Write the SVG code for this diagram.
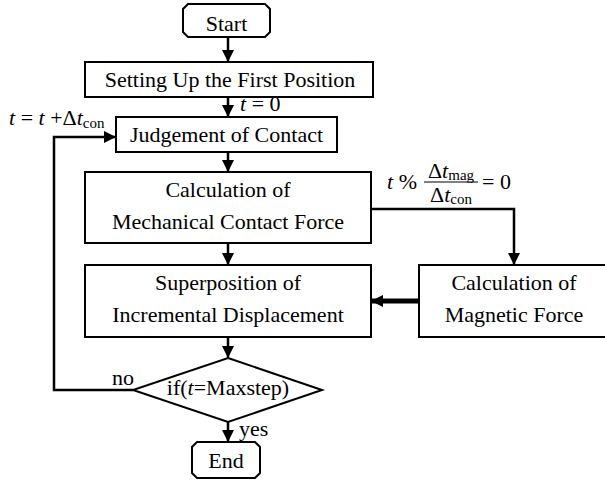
<svg xmlns="http://www.w3.org/2000/svg" width="605" height="481" viewBox="0 0 605 481">
  <defs>
    <marker id="arrow" markerUnits="userSpaceOnUse" markerWidth="14" markerHeight="12" refX="12" refY="6" orient="auto">
      <path d="M0,0 L12,6 L0,12 Z" fill="#000"/>
    </marker>
  </defs>

  <rect width="605" height="481" fill="#fff"/>

  <!-- connectors -->
  <g id="connectors" fill="none" stroke="#000" stroke-width="2.5">
    <line x1="228" y1="37" x2="228" y2="62" marker-end="url(#arrow)"/>
    <line x1="228" y1="97" x2="228" y2="117" marker-end="url(#arrow)"/>
    <line x1="228" y1="152" x2="228" y2="172" marker-end="url(#arrow)"/>
    <line x1="228" y1="243" x2="228" y2="265" marker-end="url(#arrow)"/>
    <line x1="228" y1="337" x2="228" y2="358" marker-end="url(#arrow)"/>
    <line x1="228" y1="422" x2="228" y2="442" marker-end="url(#arrow)"/>
    <polyline points="133,390 54,390 54,137 116,137" marker-end="url(#arrow)"/>
    <polyline points="371,209 514,209 514,265" marker-end="url(#arrow)"/>
    <line x1="419" y1="301" x2="371" y2="301" stroke-width="5" marker-end="url(#arrow)"/>
  </g>

  <!-- connector labels -->
  <g id="labels">
    <text x="240" y="111" font-family="Liberation Serif" font-size="22"><tspan font-style="italic">t</tspan> = 0</text>
    <text x="9" y="125" font-family="Liberation Serif" font-size="22"><tspan font-style="italic">t</tspan> = <tspan font-style="italic">t</tspan> +&#916;<tspan font-style="italic">t</tspan><tspan font-size="15" dy="3">con</tspan></text>
    <text x="387" y="189" font-family="Liberation Serif" font-size="22"><tspan font-style="italic">t</tspan> %</text>
    <text x="451" y="178" text-anchor="middle" font-family="Liberation Serif" font-size="22">&#916;<tspan font-style="italic">t</tspan><tspan font-size="15" dy="2">mag</tspan></text>
    <line x1="424" y1="182" x2="478" y2="182" stroke="#000" stroke-width="1.2"/>
    <text x="451" y="202" text-anchor="middle" font-family="Liberation Serif" font-size="22">&#916;<tspan font-style="italic">t</tspan><tspan font-size="15" dy="2">con</tspan></text>
    <text x="482" y="189" font-family="Liberation Serif" font-size="22">= 0</text>
    <text x="112" y="385" font-family="Liberation Serif" font-size="22">no</text>
    <text x="239" y="436" font-family="Liberation Serif" font-size="22">yes</text>
  </g>

  <g id="start">
    <path d="M188,4 L265,4 L270,9 L270,32 L265,37 L188,37 L183,32 L183,9 Z" fill="#fff" stroke="#000" stroke-width="2"/>
    <text x="226.5" y="31" text-anchor="middle" font-family="Liberation Serif" font-size="22">Start</text>
  </g>

  <g id="setup">
    <rect x="85" y="62" width="288" height="35" fill="#fff" stroke="#000" stroke-width="2"/>
    <text x="230" y="87" text-anchor="middle" font-family="Liberation Serif" font-size="22">Setting Up the First Position</text>
  </g>

  <g id="contact">
    <rect x="116" y="117" width="221" height="35" fill="#fff" stroke="#000" stroke-width="2"/>
    <text x="226.5" y="142" text-anchor="middle" font-family="Liberation Serif" font-size="22">Judgement of Contact</text>
  </g>

  <g id="mechanical">
    <rect x="85" y="172" width="286" height="71" fill="#fff" stroke="#000" stroke-width="2"/>
    <text x="228" y="197" text-anchor="middle" font-family="Liberation Serif" font-size="22">Calculation of</text>
    <text x="228" y="229" text-anchor="middle" font-family="Liberation Serif" font-size="22">Mechanical Contact Force</text>
  </g>

  <g id="superposition">
    <rect x="85" y="265" width="286" height="72" fill="#fff" stroke="#000" stroke-width="2"/>
    <text x="228" y="290" text-anchor="middle" font-family="Liberation Serif" font-size="22">Superposition of</text>
    <text x="228" y="322" text-anchor="middle" font-family="Liberation Serif" font-size="22">Incremental Displacement</text>
  </g>

  <g id="magnetic">
    <rect x="419" y="265" width="192" height="72" fill="#fff" stroke="#000" stroke-width="2"/>
    <text x="514" y="290" text-anchor="middle" font-family="Liberation Serif" font-size="22">Calculation of</text>
    <text x="514" y="322" text-anchor="middle" font-family="Liberation Serif" font-size="22">Magnetic Force</text>
  </g>

  <g id="decision">
    <polygon points="228,358 322,390 228,422 133,390" fill="#fff" stroke="#000" stroke-width="2"/>
    <text x="228" y="395" text-anchor="middle" font-family="Liberation Serif" font-size="22">if(<tspan font-style="italic">t</tspan>=Maxstep)</text>
  </g>

  <g id="end">
    <path d="M197,442 L255,442 L260,447 L260,473 L255,478 L197,478 L192,473 L192,447 Z" fill="#fff" stroke="#000" stroke-width="2"/>
    <text x="226" y="468" text-anchor="middle" font-family="Liberation Serif" font-size="22">End</text>
  </g>
</svg>
